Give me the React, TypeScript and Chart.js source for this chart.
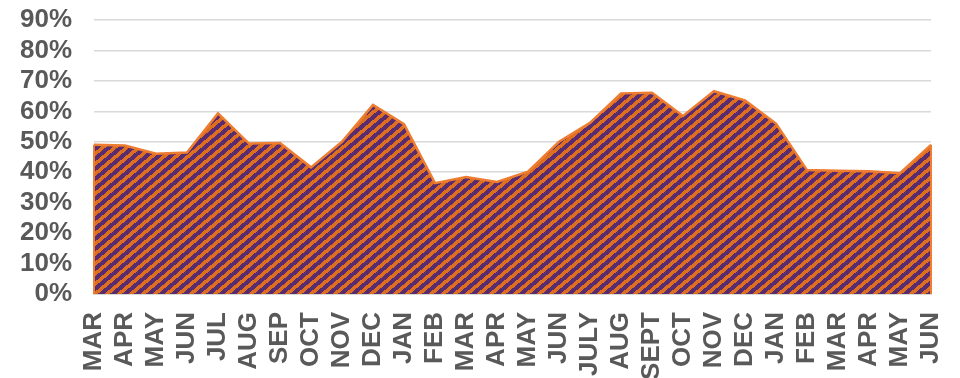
import React, { useEffect, useRef } from "react";
import { Chart, registerables } from "chart.js";

Chart.register(...registerables);

const categories = [
  "MAR", "APR", "MAY", "JUN", "JUL", "AUG", "SEP", "OCT", "NOV", "DEC", "JAN", "FEB",
  "MAR", "APR", "MAY", "JUN", "JULY", "AUG", "SEPT", "OCT", "NOV", "DEC", "JAN", "FEB",
  "MAR", "APR", "MAY", "JUN",
];
const values = [
  49, 48.8, 46.1, 46.5, 59.3, 49.4, 49.6, 41.6, 50, 62.1, 55.8, 36.4,
  38.4, 36.8, 40.2, 50, 56.2, 65.9, 66.1, 58.5, 66.6, 63.6, 56, 40.7,
  40.5, 40.3, 39.7, 49,
];
const yTickValues = [0, 10, 20, 30, 40, 50, 60, 70, 80, 90];

const PURPLE = [88, 44, 110];
const STRIPE = [222, 110, 32];
const BORDER = "#EE7D31";
const LABEL = "#595959";
const GRID = "#D9D9D9";
const FONT = "'Liberation Sans', Arial, sans-serif";

function makePattern(ctx: CanvasRenderingContext2D): CanvasPattern | string {
  const w = 60;
  const h = 50;
  const tile = document.createElement("canvas");
  tile.width = w;
  tile.height = h;
  const tctx = tile.getContext("2d");
  if (!tctx) return "rgb(88,44,110)";
  const img = tctx.createImageData(w, h);
  for (let y = 0; y < h; y++) {
    for (let x = 0; x < w; x++) {
      const t = (x + 1.2 * y) % 12;
      const c = t < 5.5 ? STRIPE : PURPLE;
      const i = (y * w + x) * 4;
      img.data[i] = c[0];
      img.data[i + 1] = c[1];
      img.data[i + 2] = c[2];
      img.data[i + 3] = 255;
    }
  }
  tctx.putImageData(img, 0, 0);
  return ctx.createPattern(tile, "repeat") || "rgb(88,44,110)";
}

const edgePlugin = {
  id: "areaEdges",
  afterDatasetsDraw(chart: any) {
    const meta = chart.getDatasetMeta(0);
    const pts = meta.data;
    if (!pts || !pts.length) return;
    const y0 = chart.scales.y.getPixelForValue(0);
    const ctx = chart.ctx;
    ctx.save();
    ctx.strokeStyle = BORDER;
    ctx.lineWidth = 2;
    ctx.beginPath();
    const first = pts[0];
    const last = pts[pts.length - 1];
    ctx.moveTo(first.x, first.y);
    ctx.lineTo(first.x, y0);
    ctx.moveTo(last.x, last.y);
    ctx.lineTo(last.x, y0);
    ctx.stroke();
    ctx.restore();
  },
};

function zeroPadding(scale: any) {
  scale.paddingTop = 0;
  scale.paddingBottom = 0;
  scale.paddingLeft = 0;
  scale.paddingRight = 0;
}

export default function App() {
  const canvasRef = useRef<HTMLCanvasElement | null>(null);

  useEffect(() => {
    document.body.style.margin = "0";
    const canvas = canvasRef.current;
    if (!canvas) return;
    const ctx = canvas.getContext("2d");
    if (!ctx) return;
    const pattern = makePattern(ctx);

    const chart = new Chart(ctx, {
      type: "line",
      data: {
        labels: categories,
        datasets: [
          {
            data: values,
            fill: "origin",
            backgroundColor: pattern as any,
            borderColor: BORDER,
            borderWidth: 2.5,
            pointRadius: 0,
            tension: 0,
          },
        ],
      },
      options: {
        animation: false,
        responsive: true,
        maintainAspectRatio: false,
        layout: { padding: { top: 20, right: 29, left: 0, bottom: 0 } },
        plugins: {
          legend: { display: false },
          tooltip: { enabled: false },
        },
        scales: {
          x: {
            offset: false,
            grid: { display: false, drawTicks: false },
            border: { display: true, color: GRID, width: 2 },
            ticks: {
              color: LABEL,
              font: { family: FONT, size: 26, weight: "bold" },
              minRotation: 90,
              maxRotation: 90,
              autoSkip: false,
              padding: 18,
            },
            afterFit(scale: any) {
              scale.height = 84;
              zeroPadding(scale);
            },
          },
          y: {
            min: 0,
            max: 90,
            grid: { color: GRID, lineWidth: 1.5, drawTicks: false },
            border: { display: false },
            ticks: {
              color: LABEL,
              font: { family: FONT, size: 26, weight: "bold" },
              padding: 22,
              autoSkip: false,
              callback: (v: any) => `${v}%`,
            },
            afterBuildTicks(scale: any) {
              scale.ticks = yTickValues.map((v) => ({ value: v }));
            },
            afterFit(scale: any) {
              scale.width = 94;
              zeroPadding(scale);
            },
          },
        },
      },
      plugins: [edgePlugin],
    });

    return () => chart.destroy();
  }, []);

  return (
    <div style={{ width: 960, height: 378, position: "relative" }}>
      <canvas ref={canvasRef} />
    </div>
  );
}
